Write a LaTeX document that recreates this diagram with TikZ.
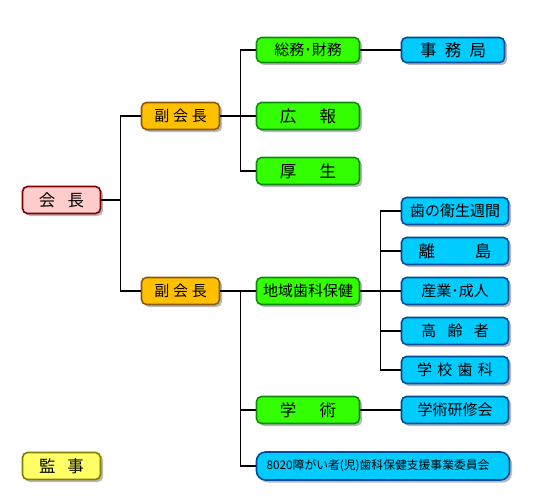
\documentclass[tikz,border=0pt]{standalone}
\usepackage{fontspec}
\setmainfont{Noto Sans CJK JP}
\usetikzlibrary{shadows}

\definecolor{kaichoFill}{HTML}{FFCCCC}
\definecolor{kaichoLine}{HTML}{800000}
\definecolor{fukuFill}{HTML}{FFC000}
\definecolor{fukuLine}{HTML}{8C5A0A}
\definecolor{bukaiFill}{HTML}{33FF00}
\definecolor{bukaiLine}{HTML}{108A10}
\definecolor{iinFill}{HTML}{00CCFF}
\definecolor{iinLine}{HTML}{004A99}
\definecolor{kanjiFill}{HTML}{FFFF66}
\definecolor{kanjiLine}{HTML}{808000}

\begin{document}
\begin{tikzpicture}[x=1pt,y=-1pt,line width=1.6pt,
    box/.style={draw,rounded corners=5pt,inner sep=0pt,minimum height=27pt,font=\fontsize{15}{15}\selectfont,
        drop shadow={opacity=0.55,shadow xshift=2.5pt,shadow yshift=-2.5pt}},
    big/.style={font=\fontsize{16.5}{16.5}\selectfont},
    kaichobox/.style={box,fill=kaichoFill,draw=kaichoLine,minimum width=78pt},
    fukubox/.style={box,fill=fukuFill,draw=fukuLine,minimum width=78pt},
    bukaibox/.style={box,fill=bukaiFill,draw=bukaiLine,minimum width=103pt},
    iinbox/.style={box,fill=iinFill,draw=iinLine,minimum width=107pt},
    kanjibox/.style={box,fill=kanjiFill,draw=kanjiLine,minimum width=78pt}]
    \useasboundingbox (0,0) rectangle (540,500);
    % left column
    \node[kaichobox,big] (kaicho) at (61.5,200) {会\hspace{0.75em}長};
    \node[kanjibox,big] (kanji) at (61.5,466) {監\hspace{0.7em}事};
    \node[fukubox] (fuku1) at (180.5,116) {副\hspace{0.25em}会\hspace{0.25em}長};
    \node[fukubox] (fuku2) at (180.5,291) {副\hspace{0.25em}会\hspace{0.25em}長};
    % upper group
    \node[bukaibox,minimum height=25pt] (somu) at (308,50) {総務･財務};
    \node[bukaibox,big] (koho) at (308,116) {広\hspace{1.4em}報};
    \node[bukaibox,big] (kosei) at (308,171) {厚\hspace{1.4em}生};
    \node[iinbox,big,minimum width=103pt,minimum height=25pt] (jimu) at (453,50) {事\hspace{0.5em}務\hspace{0.5em}局};
    % lower group
    \node[bukaibox] (chiiki) at (308,291) {地域歯科保健};
    \node[bukaibox,big] (gaku) at (308,410) {学\hspace{1.4em}術};
    \node[iinbox,minimum width=253pt,minimum height=28pt,rounded corners=9pt,
        text width=233pt,align=left,inner xsep=10pt,font=\fontsize{11.8}{11.8}\selectfont] (shien) at (383,466) {8020障がい者(児)歯科保健支援事業委員会};
    \node[iinbox] (haeisei) at (455,211) {歯の衛生週間};
    \node[iinbox,big] (ritou) at (455,251) {離\hspace{2.4em}島};
    \node[iinbox] (sangyo) at (455,291) {産業･成人};
    \node[iinbox] (korei) at (455,331) {高\hspace{0.75em}齢\hspace{0.75em}者};
    \node[iinbox] (gakko) at (455,370) {学\hspace{0.35em}校\hspace{0.35em}歯\hspace{0.35em}科};
    \node[iinbox] (kenshu) at (455,410) {学術研修会};
    % connectors
    \draw (kaicho.east) -- ++(19,0) coordinate (j0);
    \draw (fuku1.west) -| (j0) |- (fuku2.west);
    \draw (fuku1.east) -- ++(20,0) coordinate (j1) -- (koho.west);
    \draw (somu.west) -| (j1) |- (kosei.west);
    \draw (somu) -- (jimu);
    \draw (fuku2.east) -- ++(20,0) coordinate (j2) -- (chiiki.west);
    \draw (j2) |- (gaku.west);
    \draw (j2) |- (shien.west);
    \draw (chiiki.east) -- ++(20,0) coordinate (j3) -- (sangyo.west);
    \draw (haeisei.west) -| (j3) |- (gakko.west);
    \draw (j3 |- ritou) -- (ritou.west);
    \draw (j3 |- korei) -- (korei.west);
    \draw (gaku) -- (kenshu);
\end{tikzpicture}
\end{document}
